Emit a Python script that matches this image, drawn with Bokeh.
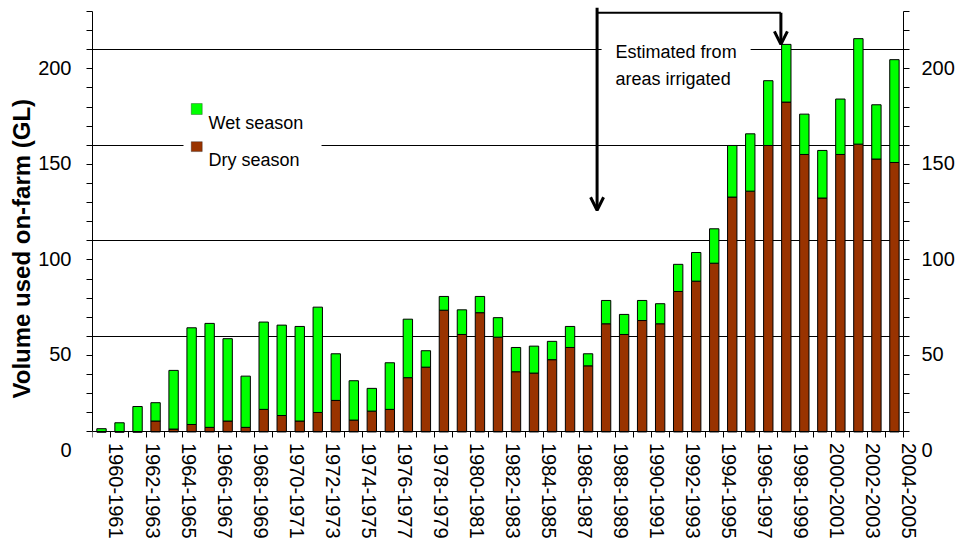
from bokeh.plotting import figure
from bokeh.models import (Range1d, LinearAxis, FixedTicker, CustomJSTickFormatter, Grid,
                          BoxAnnotation, Label, Arrow, OpenHead, Title, ColumnDataSource)
from bokeh.embed import file_html
from bokeh.resources import INLINE

seasons = ["1960-1961", "1961-1962", "1962-1963", "1963-1964", "1964-1965", "1965-1966",
           "1966-1967", "1967-1968", "1968-1969", "1969-1970", "1970-1971", "1971-1972",
           "1972-1973", "1973-1974", "1974-1975", "1975-1976", "1976-1977", "1977-1978",
           "1978-1979", "1979-1980", "1980-1981", "1981-1982", "1982-1983", "1983-1984",
           "1984-1985", "1985-1986", "1986-1987", "1987-1988", "1988-1989", "1989-1990",
           "1990-1991", "1991-1992", "1992-1993", "1993-1994", "1994-1995", "1995-1996",
           "1996-1997", "1997-1998", "1998-1999", "1999-2000", "2000-2001", "2001-2002",
           "2002-2003", "2003-2004", "2004-2005"]

dry = [0.0, 0.0, 0.0, 5.7, 1.5, 3.9, 2.4, 5.7, 2.4, 11.8, 8.6, 5.7, 10.2, 16.5, 6.2,
       10.9, 11.8, 28.4, 33.9, 63.7, 51.0, 62.4, 49.6, 31.5, 30.8, 37.8, 44.2, 34.6,
       56.6, 51.0, 58.3, 56.6, 73.5, 78.9, 88.3, 122.9, 126.0, 149.9, 172.6, 145.2,
       122.4, 145.2, 150.6, 142.8, 141.0]

wet = [1.7, 4.8, 13.3, 9.6, 30.7, 50.6, 54.4, 43.1, 26.8, 45.7, 47.3, 49.5, 55.1, 24.4,
       20.6, 11.9, 24.4, 30.6, 8.6, 7.2, 12.9, 8.5, 10.2, 12.7, 14.1, 9.6, 11.0, 6.3,
       12.2, 10.5, 10.5, 10.5, 14.2, 15.0, 18.0, 27.0, 30.0, 33.9, 30.2, 21.1, 24.9,
       29.0, 55.2, 28.4, 53.8]

y_tick_labels = [0, 50, 100, 150, 200]
y_grid_values = [50, 100, 150, 200]

FONT = "Liberation Sans"
GREEN = "#00FF00"
BROWN = "#993300"

n = len(seasons)
xs = [i + 0.5 for i in range(n)]
source = ColumnDataSource(dict(x=xs, dry=dry, wet=wet, season=seasons))

YMAX = 220
X_END = 48.0          # frame runs to the right canvas edge (room for right labels)
Y_START = -58.9       # frame runs to the bottom canvas edge (room for category labels)
Y_END = 225.76
LAB_SHIFT_Y = 9.3     # tick labels sit slightly below their values, as in the original
LAB_SHIFT_X = 0.33    # category labels sit slightly right of the boundary ticks

p = figure(width=957, height=544, output_backend="svg", toolbar_location=None,
           x_range=Range1d(0, X_END), y_range=Range1d(Y_START, Y_END),
           x_axis_location=None, y_axis_location=None,
           min_border_top=0, min_border_right=0, min_border_left=92, min_border_bottom=0,
           outline_line_color=None, background_fill_color="white")
for g in list(p.xgrid) + list(p.ygrid):
    g.visible = False

p.extra_y_ranges = {"ylab": Range1d(Y_START + LAB_SHIFT_Y, Y_END + LAB_SHIFT_Y)}
p.extra_x_ranges = {"xlab": Range1d(-LAB_SHIFT_X, X_END - LAB_SHIFT_X)}

blank = CustomJSTickFormatter(code="return ''")

def tick_axis(ticks, **kw):
    return LinearAxis(ticker=FixedTicker(ticks=ticks), formatter=blank,
                      major_tick_in=0, major_tick_out=6, major_label_standoff=0,
                      axis_line_color="black", major_tick_line_color="black", **kw)

def label_axis(**kw):
    return LinearAxis(axis_line_color=None, major_tick_line_color=None,
                      minor_tick_line_color=None, major_tick_out=0, major_tick_in=0,
                      major_label_text_font=FONT, major_label_text_font_size="20px",
                      major_label_text_color="black", **kw)

y_ticks = list(range(0, YMAX + 1, 10))

# left side
p.add_layout(tick_axis(y_ticks, bounds=(0, YMAX)), "left")
p.add_layout(label_axis(y_range_name="ylab", ticker=FixedTicker(ticks=y_tick_labels),
                        major_label_standoff=15), "left")
# right side (fixed at the last category boundary)
p.add_layout(tick_axis(y_ticks, bounds=(0, YMAX), fixed_location=n), "right")
p.add_layout(label_axis(y_range_name="ylab", ticker=FixedTicker(ticks=y_tick_labels),
                        fixed_location=n, major_label_standoff=18), "right")
# bottom (fixed at zero)
p.add_layout(tick_axis(list(range(0, n + 1)), bounds=(0, n), fixed_location=0,
                       major_label_orientation="vertical"), "below")
x_label_pos = [2 * k + 1 for k in range((n + 1) // 2)]
p.add_layout(label_axis(x_range_name="xlab", ticker=FixedTicker(ticks=x_label_pos),
                        fixed_location=0, major_label_standoff=11,
                        major_label_orientation="vertical",
                        major_label_overrides={pos: seasons[pos - 1] for pos in x_label_pos}),
             "below")

p.add_layout(Title(text="Volume used on-farm (GL)", align="left", offset=146,
                   text_font=FONT, text_font_size="24px", text_font_style="bold",
                   text_color="black", standoff=1), "left")

grid = Grid(dimension=1, ticker=FixedTicker(ticks=y_grid_values),
            grid_line_color="black", grid_line_width=1)
if "cross_bounds" in Grid.properties():
    grid.cross_bounds = (0, n + 0.25)
    p.add_layout(grid)
else:
    p.segment(x0=0, x1=n + 0.25, y0=y_grid_values, y1=y_grid_values,
              line_color="black", line_width=1)

rs = p.vbar_stack(["dry", "wet"], x="x", width=0.52, source=source,
                  fill_color=[BROWN, GREEN], line_color="black", line_width=1)

# legend (swatch above-left of its text, as in the original)
LEG_BOX = dict(left=5.05, right=12.71, top=175.8, bottom=135.8)
WET_SWATCH = dict(left=5.48, right=6.09, top=171.85, bottom=166.1)
DRY_SWATCH = dict(left=5.48, right=6.09, top=151.9, bottom=146.7)
p.add_layout(BoxAnnotation(**LEG_BOX, fill_color="white", fill_alpha=1.0, line_color=None))
p.add_layout(BoxAnnotation(**WET_SWATCH, fill_color=GREEN, fill_alpha=1.0,
                           line_color="black", line_width=1))
p.add_layout(BoxAnnotation(**DRY_SWATCH, fill_color=BROWN, fill_alpha=1.0,
                           line_color="black", line_width=1))
p.add_layout(Label(x=6.44, y=161.8, text="Wet season", text_font=FONT,
                   text_font_size="18px", text_baseline="middle", text_color="black"))
p.add_layout(Label(x=6.44, y=142.3, text="Dry season", text_font=FONT,
                   text_font_size="18px", text_baseline="middle", text_color="black"))

# annotation: estimated from areas irrigated
arrow_x1 = 28.0      # boundary before 1988-1989
arrow_x2 = 38.2      # left edge of the 1998-1999 bar
top_y = 219.3
p.add_layout(Arrow(end=OpenHead(size=13, line_width=3, line_color="black"),
                   x_start=arrow_x1, y_start=222.0, x_end=arrow_x1, y_end=116.0,
                   line_width=3, line_color="black"))
p.add_layout(Arrow(end=None, x_start=arrow_x1, y_start=top_y, x_end=arrow_x2, y_end=top_y,
                   line_width=2, line_color="black"))
p.add_layout(Arrow(end=OpenHead(size=13, line_width=3, line_color="black"),
                   x_start=arrow_x2, y_start=top_y, x_end=arrow_x2, y_end=202.8,
                   line_width=3, line_color="black"))
p.add_layout(Label(x=28.25, y=211.6, text="Estimated from\nareas irrigated",
                   text_font=FONT, text_font_size="18px", text_baseline="top",
                   text_line_height=1.35, text_color="black",
                   background_fill_color="white", padding=14))

open("out.html", "w").write(file_html(p, INLINE))
